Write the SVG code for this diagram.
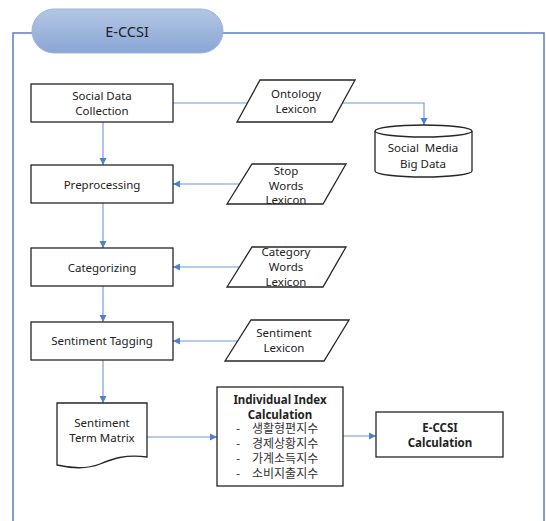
<svg xmlns="http://www.w3.org/2000/svg" width="546" height="521" viewBox="0 0 546 521">
<defs>
<linearGradient id="pill" x1="0" y1="0" x2="0" y2="1">
<stop offset="0" stop-color="#b3c6e4"/>
<stop offset="1" stop-color="#8aa6d6"/>
</linearGradient>
<marker id="ah" markerWidth="8" markerHeight="8" refX="7" refY="4" orient="auto" markerUnits="userSpaceOnUse">
<path d="M0,0.5 L7,4 L0,7.5 Z" fill="#4f80c8"/>
</marker>
<style>
.box{fill:#fff;stroke:#262626;stroke-width:1.3}
.t{font-family:"Noto Sans","Noto Sans CJK KR",sans-serif;font-size:11.5px;fill:#222;text-anchor:middle}
.b{font-weight:bold}
.k{font-family:"Noto Sans CJK KR","Noto Sans",sans-serif;font-size:12px;fill:#333}
.c{fill:none;stroke:#6b97d4;stroke-width:1.1}
</style>
</defs>
<rect x="13" y="33" width="531" height="495" fill="#fff" stroke="#5a80bb" stroke-width="1.5"/>
<g id="title">
<rect x="32" y="9" width="191" height="44" rx="22" fill="url(#pill)" stroke="#9fb5da" stroke-width="1"/>
<text class="t" x="127" y="37" style="font-size:14.5px">E-CCSI</text>
</g>
<g id="connectors">
<line class="c" x1="103" y1="122" x2="103" y2="165" marker-end="url(#ah)"/>
<line class="c" x1="103" y1="203" x2="103" y2="248" marker-end="url(#ah)"/>
<line class="c" x1="103" y1="286" x2="103" y2="322" marker-end="url(#ah)"/>
<line class="c" x1="103" y1="360" x2="103" y2="403" marker-end="url(#ah)"/>
<polyline class="c" points="173,103 424,103 424,125" marker-end="url(#ah)"/>
<line class="c" x1="240" y1="184" x2="173" y2="184" marker-end="url(#ah)"/>
<line class="c" x1="240" y1="267" x2="173" y2="267" marker-end="url(#ah)"/>
<line class="c" x1="238" y1="341" x2="173" y2="341" marker-end="url(#ah)"/>
<line class="c" x1="147" y1="437" x2="217" y2="437" marker-end="url(#ah)"/>
<line class="c" x1="343" y1="436" x2="376" y2="436" marker-end="url(#ah)"/>
</g>
<g id="social-data-collection">
<rect class="box" x="31" y="84" width="142" height="38"/>
<text class="t" x="102" y="100">Social Data</text>
<text class="t" x="102" y="115">Collection</text>
</g>
<g id="ontology-lexicon">
<polygon class="box" points="260,80 355,80 332,122 237,122"/>
<text class="t" x="296" y="98">Ontology</text>
<text class="t" x="296" y="113">Lexicon</text>
</g>
<g id="social-media-big-data">
<path class="box" d="M375,131 A48.5,6 0 0 1 472,131 L472,171 A48.5,6 0 0 1 375,171 Z"/>
<path d="M375,131 A48.5,6 0 0 0 472,131" fill="none" stroke="#262626" stroke-width="1.3"/>
<text class="t" x="423" y="152" style="word-spacing:3px">Social Media</text>
<text class="t" x="423" y="168">Big Data</text>
</g>
<g id="preprocessing">
<rect class="box" x="31" y="165" width="142" height="38"/>
<text class="t" x="102" y="189">Preprocessing</text>
</g>
<g id="stop-words-lexicon">
<polygon class="box" points="252,164 346,164 323,204 227,204"/>
<text class="t" x="286" y="175">Stop</text>
<text class="t" x="286" y="190">Words</text>
<text class="t" x="286" y="204">Lexicon</text>
</g>
<g id="categorizing">
<rect class="box" x="31" y="248" width="142" height="38"/>
<text class="t" x="102" y="272">Categorizing</text>
</g>
<g id="category-words-lexicon">
<polygon class="box" points="252,247 346,247 323,287 227,287"/>
<text class="t" x="286" y="256">Category</text>
<text class="t" x="286" y="271">Words</text>
<text class="t" x="286" y="286">Lexicon</text>
</g>
<g id="sentiment-tagging">
<rect class="box" x="31" y="322" width="142" height="38"/>
<text class="t" x="102" y="345">Sentiment Tagging</text>
</g>
<g id="sentiment-lexicon">
<polygon class="box" points="251,320 349,320 324,361 225,361"/>
<text class="t" x="284" y="337">Sentiment</text>
<text class="t" x="284" y="352">Lexicon</text>
</g>
<g id="sentiment-term-matrix">
<path class="box" d="M57,403 L147,403 L147,457 C125,454 112,459 100,464 C85,470 70,468 57,465 Z"/>
<text class="t" x="102" y="427">Sentiment</text>
<text class="t" x="102" y="442">Term Matrix</text>
</g>
<g id="individual-index-calculation">
<rect class="box" x="217" y="387" width="126" height="99"/>
<text class="t b" x="280" y="404">Individual Index</text>
<text class="t b" x="280" y="419">Calculation</text>
<text class="k" x="236" y="433">-</text><text class="k" x="252" y="433">생활형편지수</text>
<text class="k" x="236" y="448">-</text><text class="k" x="252" y="448">경제상황지수</text>
<text class="k" x="236" y="463">-</text><text class="k" x="252" y="463">가계소득지수</text>
<text class="k" x="236" y="478">-</text><text class="k" x="252" y="478">소비지출지수</text>
</g>
<g id="e-ccsi-calculation">
<rect class="box" x="376" y="412" width="127" height="45"/>
<text class="t b" x="440" y="432">E-CCSI</text>
<text class="t b" x="440" y="447">Calculation</text>
</g>
</svg>
